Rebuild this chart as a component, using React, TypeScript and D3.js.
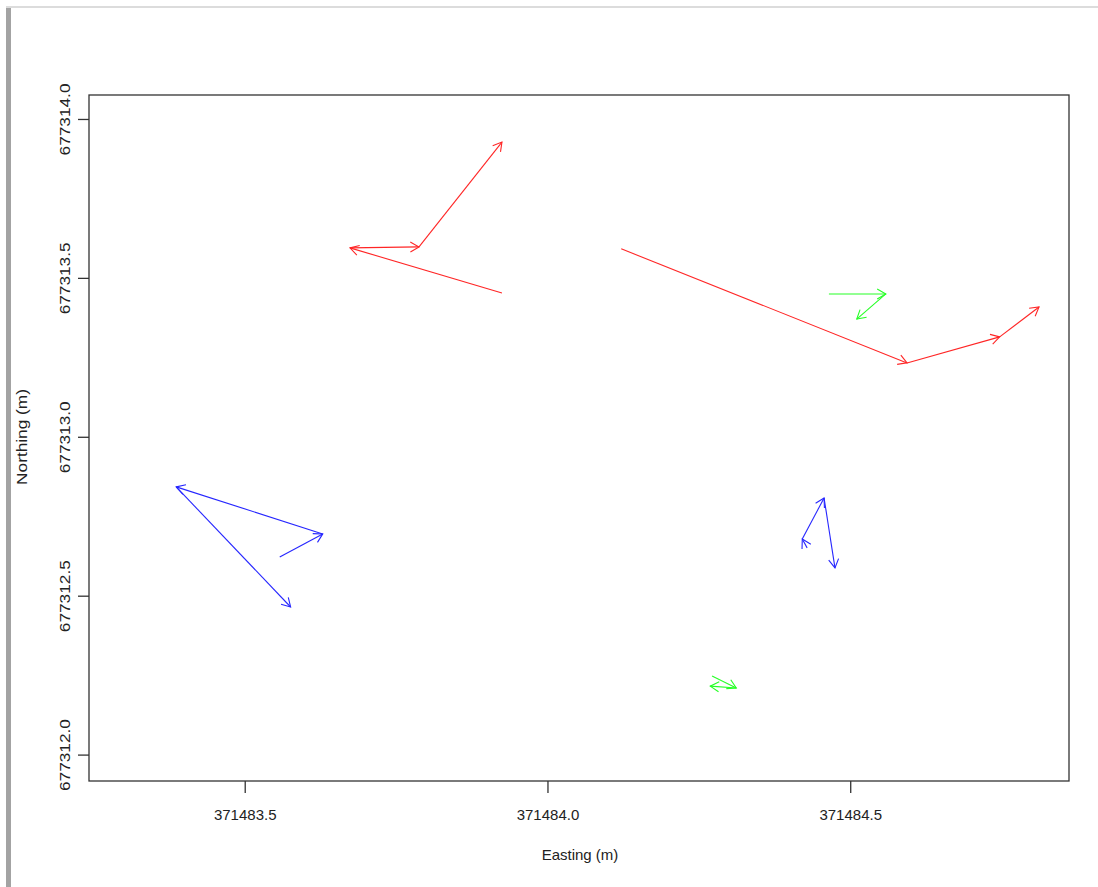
import { useEffect, useRef } from 'react';
import * as d3 from 'd3';

// tracks: consecutive points joined by arrows
const redTrackA = [
  { x: 371483.924, y: 677313.454 },
  { x: 371483.673, y: 677313.596 },
  { x: 371483.787, y: 677313.599 },
  { x: 371483.924, y: 677313.929 },
];
const redTrackB = [
  { x: 371484.121, y: 677313.593 },
  { x: 371484.593, y: 677313.234 },
  { x: 371484.746, y: 677313.316 },
  { x: 371484.811, y: 677313.410 },
];
const greenTrackA = [
  { x: 371484.464, y: 677313.451 },
  { x: 371484.558, y: 677313.451 },
  { x: 371484.510, y: 677313.372 },
];
const greenTrackB = [
  { x: 371484.271, y: 677312.249 },
  { x: 371484.311, y: 677312.211 },
  { x: 371484.268, y: 677312.217 },
];
const blueTrackA = [
  { x: 371483.557, y: 677312.623 },
  { x: 371483.628, y: 677312.696 },
  { x: 371483.386, y: 677312.844 },
  { x: 371483.575, y: 677312.466 },
];
const blueTrackB = [
  { x: 371484.428, y: 677312.652 },
  { x: 371484.420, y: 677312.680 },
  { x: 371484.456, y: 677312.809 },
  { x: 371484.474, y: 677312.589 },
];

const xTicks = [371483.5, 371484.0, 371484.5];
const yTicks = [677312.0, 677312.5, 677313.0, 677313.5, 677314.0];

const tracks = [
  { pts: redTrackA, color: '#ff0000' },
  { pts: redTrackB, color: '#ff0000' },
  { pts: greenTrackA, color: '#00ff00' },
  { pts: greenTrackB, color: '#00ff00' },
  { pts: blueTrackA, color: '#0000ff' },
  { pts: blueTrackB, color: '#0000ff' },
];

export default function App() {
  const ref = useRef<SVGSVGElement>(null);

  useEffect(() => {
    document.body.style.margin = '0';
    const svg = d3.select(ref.current);
    svg.selectAll('*').remove();

    const left = 89, right = 1069, top = 95, bottom = 781;
    const x = d3.scaleLinear().domain([371483.242, 371484.8605]).range([left, right]);
    const y = d3.scaleLinear().domain([677311.9185, 677314.077]).range([bottom, top]);

    // window chrome from the screenshot
    svg.append('rect').attr('x', 6).attr('y', 7).attr('width', 5).attr('height', 880).attr('fill', '#a3a3a3');
    svg.append('rect').attr('x', 6).attr('y', 6).attr('width', 1092).attr('height', 2).attr('fill', '#dcdcdc');

    const font = 'Liberation Sans, Arial, Helvetica, sans-serif';

    // arrows
    const head = 10, ang = Math.PI / 6;
    tracks.forEach(t => {
      const g = svg.append('g').attr('stroke', t.color).attr('stroke-width', 1.1).attr('fill', 'none').attr('opacity', 0.85);
      for (let i = 1; i < t.pts.length; i++) {
        const x0 = x(t.pts[i - 1].x), y0 = y(t.pts[i - 1].y);
        const x1 = x(t.pts[i].x), y1 = y(t.pts[i].y);
        g.append('line').attr('x1', x0).attr('y1', y0).attr('x2', x1).attr('y2', y1);
        const a = Math.atan2(y1 - y0, x1 - x0);
        const p = d3.path();
        p.moveTo(x1 - head * Math.cos(a - ang), y1 - head * Math.sin(a - ang));
        p.lineTo(x1, y1);
        p.lineTo(x1 - head * Math.cos(a + ang), y1 - head * Math.sin(a + ang));
        g.append('path').attr('d', p.toString());
      }
    });

    // box
    svg.append('rect').attr('x', left).attr('y', top).attr('width', right - left).attr('height', bottom - top)
      .attr('fill', 'none').attr('stroke', '#333').attr('stroke-width', 1.3);

    // x axis
    const xa = svg.append('g');
    xTicks.forEach(v => {
      xa.append('line').attr('x1', x(v)).attr('x2', x(v)).attr('y1', bottom).attr('y2', bottom + 12)
        .attr('stroke', '#333').attr('stroke-width', 1.3);
      xa.append('text').attr('x', x(v)).attr('y', 820).attr('text-anchor', 'middle')
        .attr('font-family', font).attr('font-size', 15).attr('fill', '#222').text(v.toFixed(1));
    });
    svg.append('text').attr('x', (left + right) / 2 + 1).attr('y', 860).attr('text-anchor', 'middle')
      .attr('font-family', font).attr('font-size', 15).attr('fill', '#222').text('Easting (m)');

    // y axis
    const ya = svg.append('g');
    yTicks.forEach(v => {
      ya.append('line').attr('x1', left - 11).attr('x2', left).attr('y1', y(v)).attr('y2', y(v))
        .attr('stroke', '#333').attr('stroke-width', 1.3);
      ya.append('text').attr('transform', `translate(70,${y(v)}) rotate(-90) scale(1.15,1)`)
        .attr('text-anchor', 'middle').attr('font-family', font).attr('font-size', 15).attr('fill', '#222')
        .text(v.toFixed(1));
    });
    svg.append('text').attr('transform', `translate(27,${(top + bottom) / 2 - 1}) rotate(-90) scale(1.15,1)`)
      .attr('text-anchor', 'middle').attr('font-family', font).attr('font-size', 15).attr('fill', '#222')
      .text('Northing (m)');
  }, []);

  return <svg ref={ref} width={1098} height={887} style={{ display: 'block', background: '#fff' }} />;
}
